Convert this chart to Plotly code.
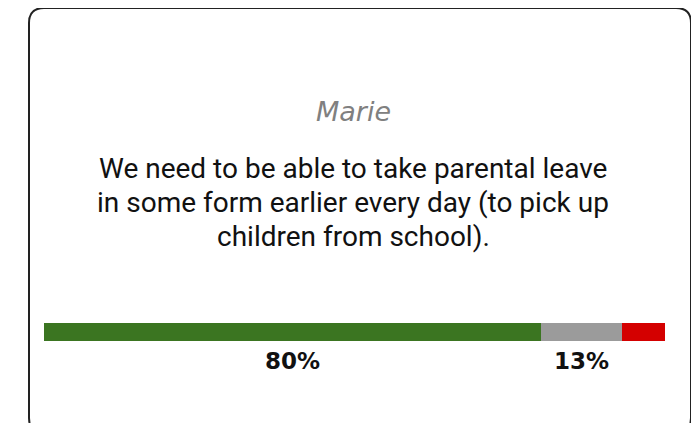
import plotly.graph_objects as go

W, H = 699, 423
OFF = 8  # page body margin: figure is drawn at (8, 8) in the window

speaker = "Marie"
quote_lines = [
    "We need to be able to take parental leave",
    "in some form earlier every day (to pick up",
    "children from school).",
]
categories = ["Agree", "Neutral", "Disagree"]
values = [80, 13, 7]
colors = ["#3b7521", "#9b9b9b", "#d40000"]
show_label = [True, True, False]

# pixel geometry (window coordinates)
bar_x0, bar_x1 = 44, 665
bar_y0, bar_y1 = 323, 341

def px(x):
    return (x - OFF) / W

def py(y):
    return 1 - (y - OFF) / H

fig = go.Figure()
for cat, v, c in zip(categories, values, colors):
    fig.add_trace(go.Bar(
        x=[v], y=["q"], orientation="h", name=cat,
        marker=dict(color=c, line=dict(width=0)),
        width=1, hoverinfo="skip",
    ))

total = sum(values)
cum = 0
for v, show in zip(values, show_label):
    if show:
        fig.add_annotation(
            x=cum + v / 2, y=py(361), xref="x", yref="paper",
            text=f"<b>{v}%</b>", showarrow=False,
            font=dict(family="DejaVu Sans", size=23, color="#111111"),
            xanchor="center", yanchor="middle",
        )
    cum += v

fig.add_annotation(
    x=px(353), y=py(111), xref="paper", yref="paper", text=f"<i>{speaker}</i>",
    showarrow=False, font=dict(family="DejaVu Sans", size=27, color="#808080"),
    xanchor="center", yanchor="middle",
)
line_y = [168, 202, 236]
for txt, yy in zip(quote_lines, line_y):
    fig.add_annotation(
        x=px(353), y=py(yy), xref="paper", yref="paper", text=txt,
        showarrow=False, font=dict(family="Roboto", size=28, color="#111111"),
        xanchor="center", yanchor="middle", align="center",
    )

# rounded card border
cx0, cy0, cx1, cy1, r = 29, 8, 691, 433, 15
rx, ry = r / W, r / H
X0, X1 = px(cx0), px(cx1)
Y0, Y1 = py(cy0), py(cy1)  # Y0 top (larger), Y1 bottom
path = (
    f"M {X0+rx},{Y0} L {X1-rx},{Y0} Q {X1},{Y0} {X1},{Y0-ry} "
    f"L {X1},{Y1+ry} Q {X1},{Y1} {X1-rx},{Y1} "
    f"L {X0+rx},{Y1} Q {X0},{Y1} {X0},{Y1+ry} "
    f"L {X0},{Y0-ry} Q {X0},{Y0} {X0+rx},{Y0} Z"
)
fig.add_shape(type="path", path=path, xref="paper", yref="paper",
              line=dict(color="#222222", width=2), fillcolor="rgba(0,0,0,0)")

fig.update_layout(
    width=W, height=H, margin=dict(l=0, r=0, t=0, b=0),
    paper_bgcolor="white", plot_bgcolor="rgba(0,0,0,0)",
    barmode="stack", showlegend=False, bargap=0,
    xaxis=dict(domain=[px(bar_x0), px(bar_x1)], range=[0, total],
               visible=False, fixedrange=True),
    yaxis=dict(domain=[py(bar_y1), py(bar_y0)], range=[-0.5, 0.5],
               visible=False, fixedrange=True),
)

fig.write_html("out.html")
